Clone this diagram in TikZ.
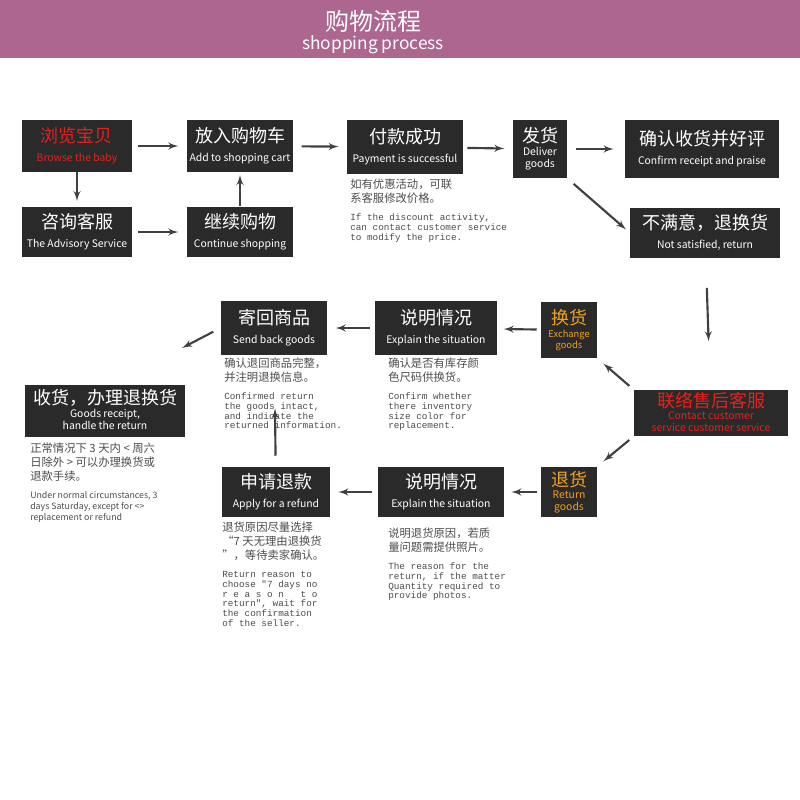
\documentclass[tikz,border=0pt]{standalone}
\usepackage{fontspec}
\setmainfont{Noto Sans CJK SC}
\newfontfamily\cjk{Noto Sans CJK SC}
\setmonofont{Liberation Mono}
\usetikzlibrary{arrows}
\definecolor{band}{HTML}{AD6690}
\definecolor{boxbg}{HTML}{2A2A2A}
\definecolor{hotred}{HTML}{E3221E}
\definecolor{amber}{HTML}{F0A21E}
\newcommand\ensmall[1]{{\fontsize{7.8}{7.8}\selectfont\begin{tabular}{@{}c@{}}#1\end{tabular}}}
\newcommand\noteen[1]{{\ttfamily\fontsize{7}{7.2}\selectfont\begin{tabular}[t]{@{}l@{}}#1\end{tabular}}}
\begin{document}
\begin{tikzpicture}[x=0.75pt,y=-0.75pt,>=latex', font=\cjk]

  \tikzstyle{stage}=[fill=boxbg, text=white, align=center, inner sep=0,
    font=\cjk\fontsize{13.5}{14}\selectfont]
  \tikzstyle{note}=[anchor=north west, align=left, inner sep=0, text=black!70,
    font=\cjk\fontsize{8.5}{10.5}\selectfont]
  \tikzstyle{flow}=[black!75, line width=1.6pt, ->]

  \useasboundingbox (0,0) rectangle (800,800);
  \fill[band] (0,0) rectangle (800,58);
  \node [text=white, font=\cjk\fontsize{18}{18}\selectfont] (title) at (373,21) {购物流程};
  \node [text=white, font=\itshape\fontsize{13}{13}\selectfont] (subtitle) at (373,45) {shopping process};

  % first rows
  \node [stage, minimum width=83, minimum height=39, text=hotred] (browse) at (77,146) {浏览宝贝\\\ensmall{Browse the baby}};
  \node [stage, minimum width=80, minimum height=39] (cart) at (240,146) {放入购物车\\\ensmall{Add to shopping cart}};
  \node [stage, minimum width=87, minimum height=41] (pay) at (405,147) {付款成功\\\ensmall{Payment is successful}};
  \node [stage, minimum width=41, minimum height=44] (deliver) at (540,149) {发货\\\ensmall{Deliver\\goods}};
  \node [stage, minimum width=116, minimum height=44] (praise) at (702,149) {确认收货并好评\\\ensmall{Confirm receipt and praise}};
  \node [stage, minimum width=83, minimum height=38] (advice) at (77,232) {咨询客服\\\ensmall{The Advisory Service}};
  \node [stage, minimum width=80, minimum height=38] (goon) at (240,232) {继续购物\\\ensmall{Continue shopping}};
  \node [stage, minimum width=112, minimum height=38] (unhappy) at (705,233) {不满意，退换货\\\ensmall{Not satisfied, return}};

  \node [note] (paynote) at (350,179) {如有优惠活动，可联\\系客服修改价格。\\[3pt]
    \noteen{If the discount activity,\\can contact customer service\\to modify the price.}};

  % return branch
  \node [stage, minimum width=116, minimum height=35, text=hotred] (contact) at (711,413) {联络售后客服\\\ensmall{Contact customer\\service customer service}};
  \node [stage, minimum width=42, minimum height=42, text=amber] (swap) at (569,330) {换货\\{\fontsize{7}{7}\selectfont\begin{tabular}{@{}c@{}}Exchange\\goods\end{tabular}}};
  \node [stage, minimum width=91, minimum height=40] (explainA) at (436,328) {说明情况\\\ensmall{Explain the situation}};
  \node [stage, minimum width=80, minimum height=40] (sendback) at (274,328) {寄回商品\\\ensmall{Send back goods}};
  \node [stage, minimum width=42, minimum height=38, text=amber] (refund) at (569,492) {退货\\\ensmall{Return\\goods}};
  \node [stage, minimum width=95, minimum height=38] (explainB) at (441,492) {说明情况\\\ensmall{Explain the situation}};
  \node [stage, minimum width=81, minimum height=38] (apply) at (276,492) {申请退款\\\ensmall{Apply for a refund}};
  \node [stage, minimum width=120, minimum height=39] (receipt) at (105,411) {收货，办理退换货\\\ensmall{Goods receipt,\\handle the return}};

  \node [note] (sendnote) at (224,358) {确认退回商品完整，\\并注明退换信息。\\[3pt]
    \noteen{Confirmed return\\the goods intact,\\and indicate the\\returned information.}};
  \node [note] (explainAnote) at (388,358) {确认是否有库存颜\\色尺码供换货。\\[3pt]
    \noteen{Confirm whether\\there inventory\\size color for\\replacement.}};
  \node [note] (applynote) at (222,522) {退货原因尽量选择\\“7 天无理由退换货\\”，等待卖家确认。\\[3pt]
    \noteen{Return reason to\\choose "7 days no\\r e a s o n~~~t o\\return", wait for\\the confirmation\\of the seller.}};
  \node [note] (explainBnote) at (388,528) {说明退货原因，若质\\量问题需提供照片。\\[3pt]
    \noteen{The reason for the\\return, if the matter\\Quantity required to\\provide photos.}};
  \node [note] (receiptnote) at (30,443) {正常情况下 3 天内 < 周六\\日除外 > 可以办理换货或\\退款手续。\\[3pt]
    {\fontsize{6.6}{8}\selectfont\begin{tabular}[t]{@{}l@{}}Under normal circumstances, 3\\days Saturday, except for <>\\replacement or refund\end{tabular}}};

  \coordinate (loose) at (182,348);

  \draw [flow, shorten <=4pt, shorten >=6pt] (browse) -- (cart);
  \draw [flow, shorten <=6pt, shorten >=6pt] (cart) -- (pay);
  \draw [flow, shorten <=3pt, shorten >=6pt] (pay) -- (deliver);
  \draw [flow, shorten <=6pt, shorten >=8pt] (deliver) -- (praise);
  \draw [flow, shorten >=4pt] (browse) -- (advice);
  \draw [flow, shorten <=4pt, shorten >=6pt] (advice) -- (goon);
  \draw [flow, shorten >=2pt] (goon) -- (cart);
  \draw [flow, shorten <=6pt, shorten >=4pt] (deliver.south east) -- (unhappy.west);
  \draw [flow, shorten <=22pt, shorten >=36pt] (unhappy) -- (contact);
  \draw [flow, shorten <=4pt, shorten >=6pt] (contact.north west) -- (swap.south east);
  \draw [flow, shorten <=4pt, shorten >=6pt] (contact.south west) -- (refund.north east);
  \draw [flow, shorten <=3pt, shorten >=5pt] (swap) -- (explainA);
  \draw [flow, shorten <=4pt, shorten >=6pt] (explainA) -- (sendback);
  \draw [flow, shorten <=6pt] (sendback.west) -- (loose);
  \draw [flow, shorten <=3pt, shorten >=5pt] (refund) -- (explainB);
  \draw [flow, shorten <=4pt, shorten >=6pt] (explainB) -- (apply);
  \draw [flow, shorten <=8pt, shorten >=40pt] (apply) -- (sendback);

\end{tikzpicture}
\end{document}
